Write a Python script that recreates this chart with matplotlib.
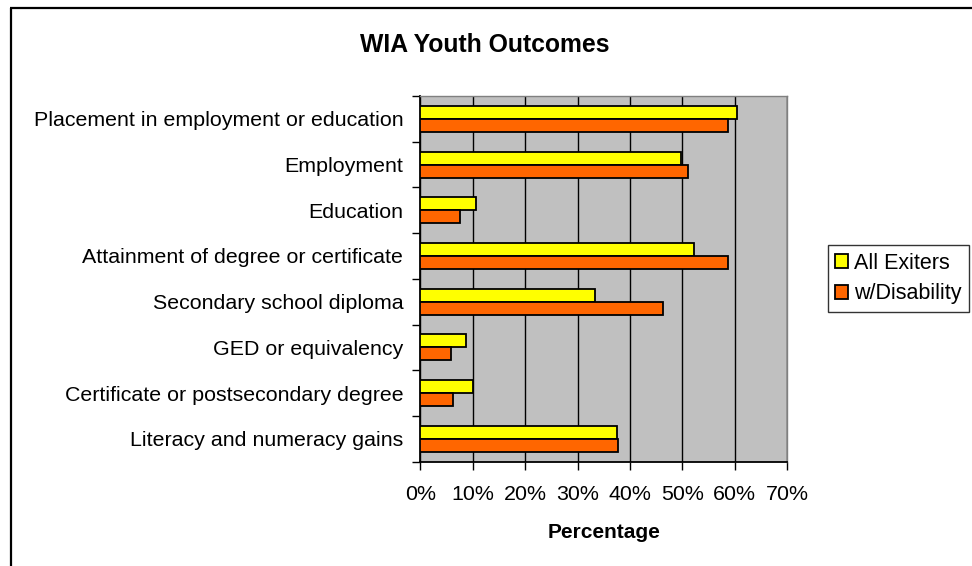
import matplotlib
matplotlib.use("Agg")
import matplotlib.pyplot as plt
from matplotlib.lines import Line2D
import numpy as np

categories = ["Placement in employment or education", "Employment", "Education",
              "Attainment of degree or certificate", "Secondary school diploma",
              "GED or equivalency", "Certificate or postsecondary degree",
              "Literacy and numeracy gains"]
all_exiters = [60.5, 49.7, 10.7, 52.2, 33.3, 8.8, 10.0, 37.5]
w_disability = [58.6, 51.0, 7.5, 58.6, 46.3, 5.9, 6.3, 37.8]
xticks = [0, 10, 20, 30, 40, 50, 60, 70]
xticklabels = ["0%", "10%", "20%", "30%", "40%", "50%", "60%", "70%"]

plt.rcParams['font.family'] = ['Liberation Sans', 'DejaVu Sans']

W, H = 972, 566
fig = plt.figure(figsize=(W / 100, H / 100), dpi=100)
ax = fig.add_axes([420.3 / W, 1 - 461.7 / H, 367 / W, 365.7 / H])
ax.set_facecolor("#C0C0C0")

n = len(categories)
y = np.arange(n)
h = 0.285
ax.barh(y - h / 2, all_exiters, height=h, color="#FFFF00", edgecolor="black",
        linewidth=1.3, label="All Exiters", zorder=3)
ax.barh(y + h / 2, w_disability, height=h, color="#FF6600", edgecolor="black",
        linewidth=1.3, label="w/Disability", zorder=3)

fs = 15.4
ax.set_ylim(n - 0.5, -0.5)
ax.set_xlim(0, 70)
ax.set_yticks(y)
ax.set_yticklabels(categories, fontsize=fs)
ax.set_yticks(np.arange(-0.5, n, 1), minor=True)
ax.tick_params(axis="y", which="major", length=0, pad=12.3)
ax.tick_params(axis="y", which="minor", length=5.5, width=1, direction="out")
ax.set_xticks(xticks)
ax.set_xticklabels(xticklabels, fontsize=fs)
ax.tick_params(axis="x", length=5.5, width=1, direction="out", pad=11.5)

ax.xaxis.grid(True, color="black", linewidth=1, zorder=1)
ax.set_axisbelow(True)
for s in ["top", "right"]:
    ax.spines[s].set_color("#808080")
    ax.spines[s].set_linewidth(1)
for s in ["left", "bottom"]:
    ax.spines[s].set_color("black")
    ax.spines[s].set_linewidth(1.3)

ax.set_xlabel("Percentage", fontsize=15, fontweight="bold", labelpad=13.5)
fig.text(485 / W, 1 - 45 / H, "WIA Youth Outcomes", ha="center", va="center",
         fontsize=17.8, fontweight="bold")

leg = fig.legend(loc="center", bbox_to_anchor=(898.5 / W, 1 - 278.5 / H),
                 fontsize=15.5, frameon=True, fancybox=False, edgecolor="black",
                 handlelength=0.6, handleheight=0.6, handletextpad=0.3,
                 borderpad=0.35, labelspacing=0.45, borderaxespad=0)
leg.get_frame().set_linewidth(1)

# chart border (top and left edges visible)
fig.add_artist(Line2D([10 / W, 1.0], [1 - 8 / H, 1 - 8 / H], transform=fig.transFigure,
                      color="black", linewidth=1.6, solid_capstyle="butt"))
fig.add_artist(Line2D([10.5 / W, 10.5 / W], [0, 1 - 8 / H], transform=fig.transFigure,
                      color="black", linewidth=1.6, solid_capstyle="butt"))

fig.savefig("out.png", dpi=100)
